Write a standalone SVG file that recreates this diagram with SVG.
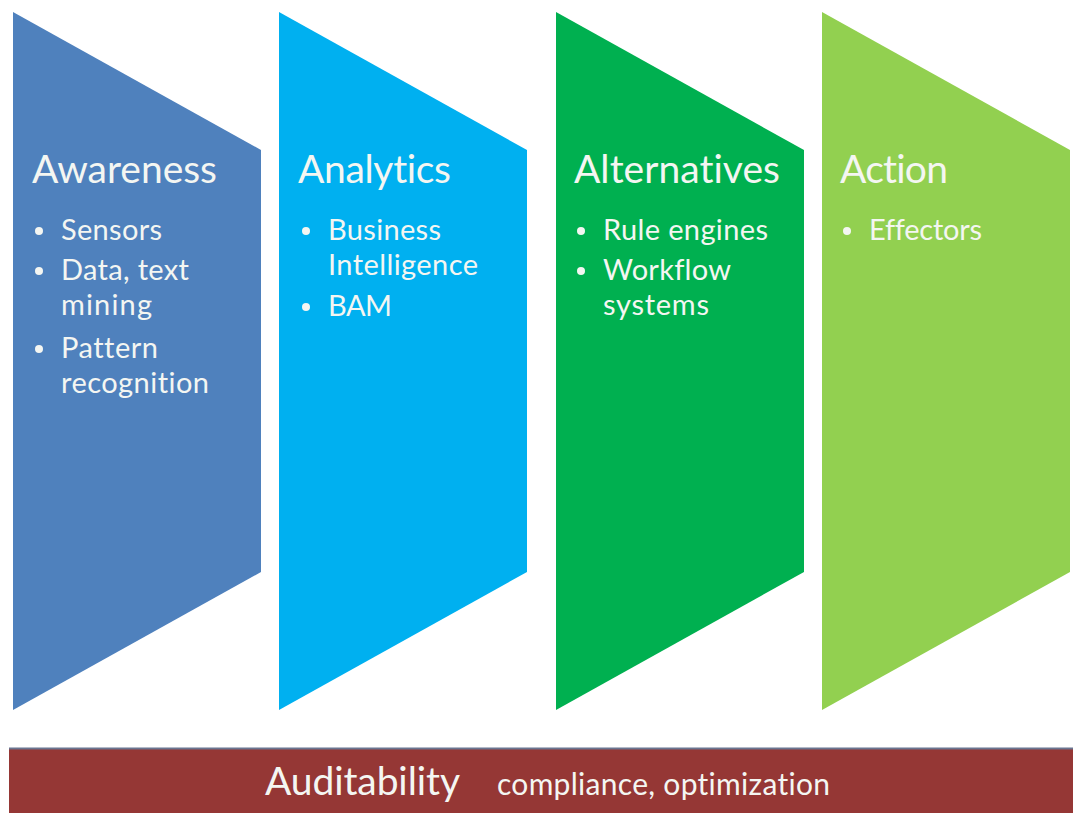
<svg xmlns="http://www.w3.org/2000/svg" width="1073" height="813" viewBox="0 0 1073 813">
<style>
.t{font-family:Lato,"Open Sans","Liberation Sans",sans-serif;fill:#F4F6F2;font-variant-ligatures:none;font-feature-settings:"liga" 0}
.h{font-size:39px}
.b{font-size:29px}
.dot{fill:#F4F6F2}
</style>
<rect width="1073" height="813" fill="#FFFFFF"/>
<g id="awareness">
<polygon points="13,12 261,150 261,572 13,710" fill="#4F81BD"/>
<text class="t h" x="32" y="183" textLength="185">Awareness</text>
<circle class="dot" cx="39" cy="231" r="4"/>
<text class="t b" x="61" y="240" textLength="101">Sensors</text>
<circle class="dot" cx="39" cy="271" r="4"/>
<text class="t b" x="61" y="280" textLength="128">Data, text</text>
<text class="t b" x="61" y="315" textLength="91">mining</text>
<circle class="dot" cx="39" cy="349" r="4"/>
<text class="t b" x="61" y="358" textLength="97">Pattern</text>
<text class="t b" x="61" y="393" textLength="148">recognition</text>
</g>
<g id="analytics">
<polygon points="279,12 527,150 527,572 279,710" fill="#00B0F0"/>
<text class="t h" x="298" y="183" textLength="153">Analytics</text>
<circle class="dot" cx="306" cy="231" r="4"/>
<text class="t b" x="328" y="240" textLength="113">Business</text>
<text class="t b" x="328" y="275" textLength="150">Intelligence</text>
<circle class="dot" cx="306" cy="307" r="4"/>
<text class="t b" x="328" y="316" textLength="64">BAM</text>
</g>
<g id="alternatives">
<polygon points="556,12 804,150 804,572 556,710" fill="#00B050"/>
<text class="t h" x="574" y="183" textLength="206">Alternatives</text>
<circle class="dot" cx="581" cy="231" r="4"/>
<text class="t b" x="603" y="240" textLength="165">Rule engines</text>
<circle class="dot" cx="581" cy="271" r="4"/>
<text class="t b" x="603" y="280" textLength="128">Workflow</text>
<text class="t b" x="603" y="315" textLength="106">systems</text>
</g>
<g id="action">
<polygon points="822,12 1070,150 1070,572 822,710" fill="#92D050"/>
<text class="t h" x="840" y="183" textLength="108">Action</text>
<circle class="dot" cx="847" cy="231" r="4"/>
<text class="t b" x="869" y="240" textLength="113">Effectors</text>
</g>
<g id="auditability">
<rect x="9" y="748" width="1064" height="65" fill="#953735"/>
<line x1="9" y1="748.5" x2="1073" y2="748.5" stroke="#6A7590" stroke-width="2"/>
<text class="t" x="265" y="795" font-size="39" textLength="195">Auditability</text>
<text class="t" x="497" y="795" font-size="30" textLength="333">compliance, optimization</text>
</g>
<g id="connectors"/>
</svg>
